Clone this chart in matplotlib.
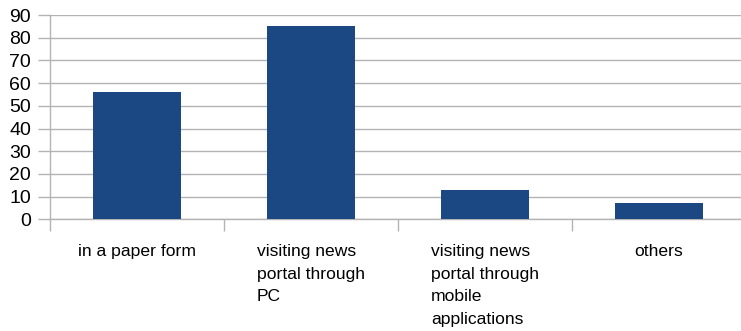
import matplotlib
matplotlib.use("Agg")
import matplotlib.pyplot as plt
import numpy as np

categories = ["in a paper form",
              "visiting news\nportal through\nPC",
              "visiting news\nportal through\nmobile\napplications",
              "others"]
values = [56, 85, 13, 7]
y_ticks = [0, 10, 20, 30, 40, 50, 60, 70, 80, 90]

plt.rcParams['font.family'] = ['Liberation Sans', 'DejaVu Sans']

fig = plt.figure(figsize=(7.41, 3.31), dpi=100)
ax = fig.add_axes([50 / 741, 111.7 / 331, 696 / 741, 204.3 / 331])

grid_color = '#b3b3b3'
x = np.arange(len(categories))
ax.bar(x, values, width=0.505, color='#1b4882', zorder=3)

ax.set_xlim(-0.5, len(categories) - 0.5)
ax.set_ylim(0, 90)
ax.set_yticks(y_ticks)
ax.yaxis.grid(True, color=grid_color, linewidth=1.0, zorder=0)

for side in ('top', 'right'):
    ax.spines[side].set_visible(False)
for side in ('left', 'bottom'):
    ax.spines[side].set_color(grid_color)
    ax.spines[side].set_linewidth(1.0)

ax.tick_params(axis='y', length=8.6, width=1.0, color=grid_color,
               labelsize=14, labelcolor='#000000', pad=5)

ax.set_xticks(x)
ax.set_xticklabels(categories, fontsize=12.6, linespacing=1.66,
                   multialignment='left', va='top')
ax.set_xticks(np.arange(-0.5, len(categories), 1.0), minor=True)
ax.tick_params(axis='x', which='major', length=0, pad=17.5, labelcolor='#000000')
ax.tick_params(axis='x', which='minor', length=8.6, width=1.0, color=grid_color)

fig.savefig("out.png", dpi=100)
